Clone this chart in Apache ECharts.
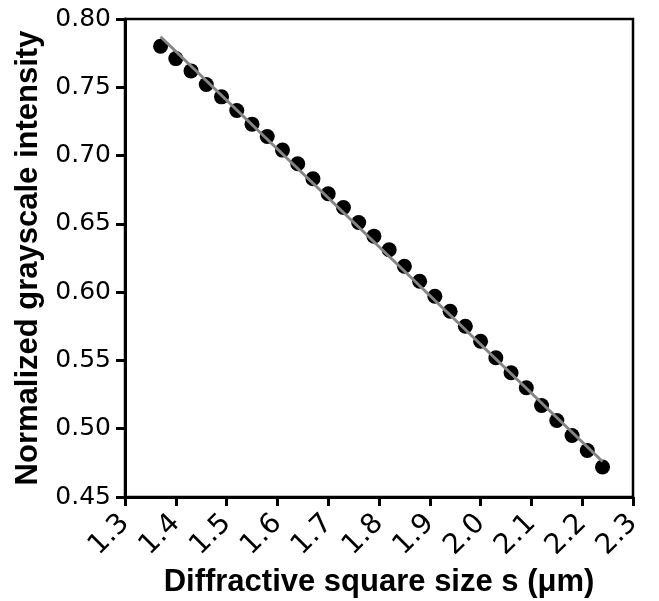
<!DOCTYPE html>
<html>
<head>
<meta charset="utf-8">
<script src="https://cdn.jsdelivr.net/npm/echarts@6/dist/echarts.min.js"></script>
<style>
  html, body { margin: 0; padding: 0; background: #fff; }
  #chart { width: 659px; height: 601px; }
</style>
</head>
<body>
<div id="chart"></div>
<script>
// measured points
const sizeX = [1.37, 1.40, 1.43, 1.46, 1.49, 1.52, 1.55, 1.58, 1.61, 1.64,
               1.67, 1.70, 1.73, 1.76, 1.79, 1.82, 1.85, 1.88, 1.91, 1.94,
               1.97, 2.00, 2.03, 2.06, 2.09, 2.12, 2.15, 2.18, 2.21, 2.24]
const intensityY = [0.780, 0.771, 0.762, 0.752, 0.743, 0.733, 0.723, 0.714, 0.704, 0.694,
                    0.683, 0.672, 0.662, 0.651, 0.641, 0.631, 0.619, 0.608, 0.597, 0.586,
                    0.575, 0.564, 0.552, 0.541, 0.530, 0.517, 0.506, 0.495, 0.484, 0.472]
// linear fit endpoints
const fitX = [1.37, 2.24]
const fitY = [0.787, 0.476]

const tickFont = 'DejaVu Sans, sans-serif'
const titleFont = 'Liberation Sans, Arial, sans-serif'

const chart = echarts.init(document.getElementById('chart'))
chart.setOption({
  animation: false,
  grid: {
    left: 125, right: 26, top: 19, bottom: 104,
    outerBoundsMode: 'none',
    show: true, borderColor: '#000', borderWidth: 2.5
  },
  xAxis: {
    type: 'value',
    min: 1.3, max: 2.3, interval: 0.1,
    name: 'Diffractive square size s (μm)',
    nameLocation: 'middle',
    nameGap: 59,
    nameTextStyle: { fontFamily: titleFont, fontSize: 31, fontWeight: 'bold', color: '#000' },
    axisLine: { lineStyle: { color: '#000', width: 3 } },
    axisTick: { length: 9, lineStyle: { color: '#000', width: 3 } },
    axisLabel: {
      rotate: 45, margin: 22,
      fontFamily: tickFont, fontSize: 28, color: '#000',
      formatter: v => v.toFixed(1)
    },
    splitLine: { show: false }
  },
  yAxis: {
    type: 'value',
    min: 0.45, max: 0.80, interval: 0.05,
    name: 'Normalized grayscale intensity',
    nameLocation: 'middle',
    nameGap: 81,
    nameTextStyle: { fontFamily: titleFont, fontSize: 31, fontWeight: 'bold', color: '#000' },
    axisLine: { show: true, lineStyle: { color: '#000', width: 3 } },
    axisTick: { show: true, length: 9, lineStyle: { color: '#000', width: 3 } },
    axisLabel: {
      margin: 14,
      fontFamily: tickFont, fontSize: 25, color: '#000',
      formatter: v => v.toFixed(2)
    },
    splitLine: { show: false }
  },
  series: [
    {
      type: 'scatter',
      data: sizeX.map((x, i) => [x, intensityY[i]]),
      symbol: 'circle',
      symbolSize: 15,
      itemStyle: { color: '#000', opacity: 1 }
    },
    {
      type: 'line',
      data: fitX.map((x, i) => [x, fitY[i]]),
      showSymbol: false,
      lineStyle: { color: '#858585', width: 3 }
    }
  ]
})
</script>
</body>
</html>
